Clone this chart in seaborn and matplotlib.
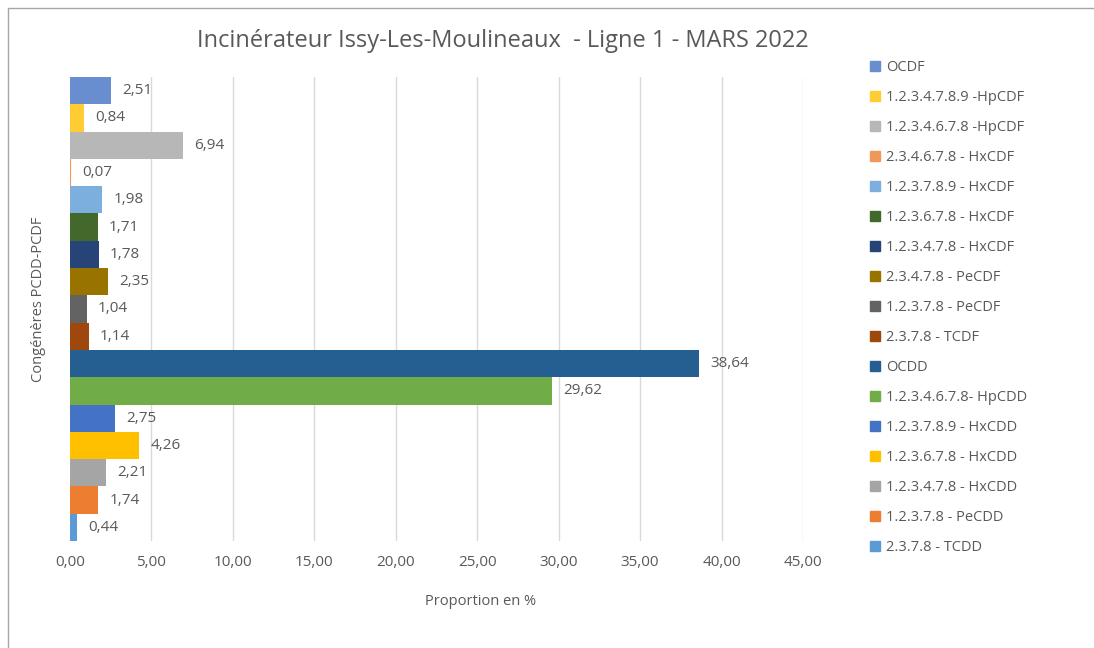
import numpy as np
import pandas as pd
import matplotlib.pyplot as plt
import matplotlib.lines as mlines
import seaborn as sns

# congeners, top to bottom as in the chart (and legend)
congeners = [
    "OCDF",
    "1.2.3.4.7.8.9 -HpCDF",
    "1.2.3.4.6.7.8 -HpCDF",
    "2.3.4.6.7.8 - HxCDF",
    "1.2.3.7.8.9 - HxCDF",
    "1.2.3.6.7.8 - HxCDF",
    "1.2.3.4.7.8 - HxCDF",
    "2.3.4.7.8 - PeCDF",
    "1.2.3.7.8 - PeCDF",
    "2.3.7.8 - TCDF",
    "OCDD",
    "1.2.3.4.6.7.8- HpCDD",
    "1.2.3.7.8.9 - HxCDD",
    "1.2.3.6.7.8 - HxCDD",
    "1.2.3.4.7.8 - HxCDD",
    "1.2.3.7.8 - PeCDD",
    "2.3.7.8 - TCDD",
]
proportions = [2.51, 0.84, 6.94, 0.07, 1.98, 1.71, 1.78, 2.35, 1.04, 1.14,
               38.64, 29.62, 2.75, 4.26, 2.21, 1.74, 0.44]
bar_colors = ["#698ED0", "#FFCD33", "#B7B7B7", "#F1975A", "#7CAFDD",
              "#43682B", "#264478", "#997300", "#636363", "#9E480E",
              "#255E91", "#70AD47", "#4472C4", "#FFC000", "#A5A5A5",
              "#ED7D31", "#5B9BD5"]
x_ticks = [0, 5, 10, 15, 20, 25, 30, 35, 40, 45]

df = pd.DataFrame({"congenere": congeners, "proportion": proportions})

sns.set_theme(style="white")
plt.rcParams['font.family'] = ['Open Sans', 'DejaVu Sans']
txt = "#595959"

fig = plt.figure(figsize=(10.94, 6.48), dpi=100)
ax = fig.add_axes([70 / 1094, 1 - 541 / 648, 733 / 1094, 464 / 648])

sns.barplot(data=df, y="congenere", x="proportion", hue="congenere",
            order=congeners, hue_order=congeners,
            palette=dict(zip(congeners, bar_colors)),
            width=1.0, saturation=1, linewidth=0, legend=False, ax=ax)

# data labels with a comma decimal
for cont, v in zip(ax.containers, proportions):
    ax.bar_label(cont, labels=[f"{v:.2f}".replace(".", ",")],
                 padding=8, fontsize=11, color=txt)

ax.set_xlim(0, 45)
ax.set_ylim(len(congeners) - 0.5, -0.5)
ax.set_xticks(x_ticks)
ax.set_xticklabels([f"{t:.2f}".replace(".", ",") for t in x_ticks],
                   fontsize=11, color=txt)
ax.tick_params(axis="x", length=0, pad=10)
ax.set_yticks([])
ax.grid(axis="x", color="#D9D9D9", lw=1)
ax.set_axisbelow(True)
sns.despine(ax=ax, left=True, bottom=True)

ax.set_xlabel("Proportion en %", fontsize=10.5, color=txt)
ax.xaxis.set_label_coords((481 - 70) / 733, -0.115)
ax.set_ylabel("Congénères PCDD-PCDF", fontsize=10.5, color=txt)
ax.yaxis.set_label_coords(-(70 - 46) / 733, 0.52)

fig.text(503 / 1094, 1 - 41 / 648,
         "Incinérateur Issy-Les-Moulineaux  - Ligne 1 - MARS 2022",
         ha="center", va="center", fontsize=17, color=txt)

# legend, one square per congener
handles = [plt.Rectangle((0, 0), 1, 1, color=c) for c in bar_colors]
leg = fig.legend(handles, congeners, loc="upper left",
                 bbox_to_anchor=(857 / 1094, 1 - 47 / 648),
                 frameon=False, fontsize=10.5, handlelength=0.7,
                 handleheight=0.7, handletextpad=0.4, labelspacing=1.03)
for t in leg.get_texts():
    t.set_color(txt)

# chart border (left and top edges visible)
fig.add_artist(mlines.Line2D([8 / 1094, 8 / 1094], [0, 1 - 8 / 648],
                             color="#A6A6A6", lw=1))
fig.add_artist(mlines.Line2D([8 / 1094, 1], [1 - 8 / 648, 1 - 8 / 648],
                             color="#A6A6A6", lw=1))

fig.savefig("out.png", dpi=100)
